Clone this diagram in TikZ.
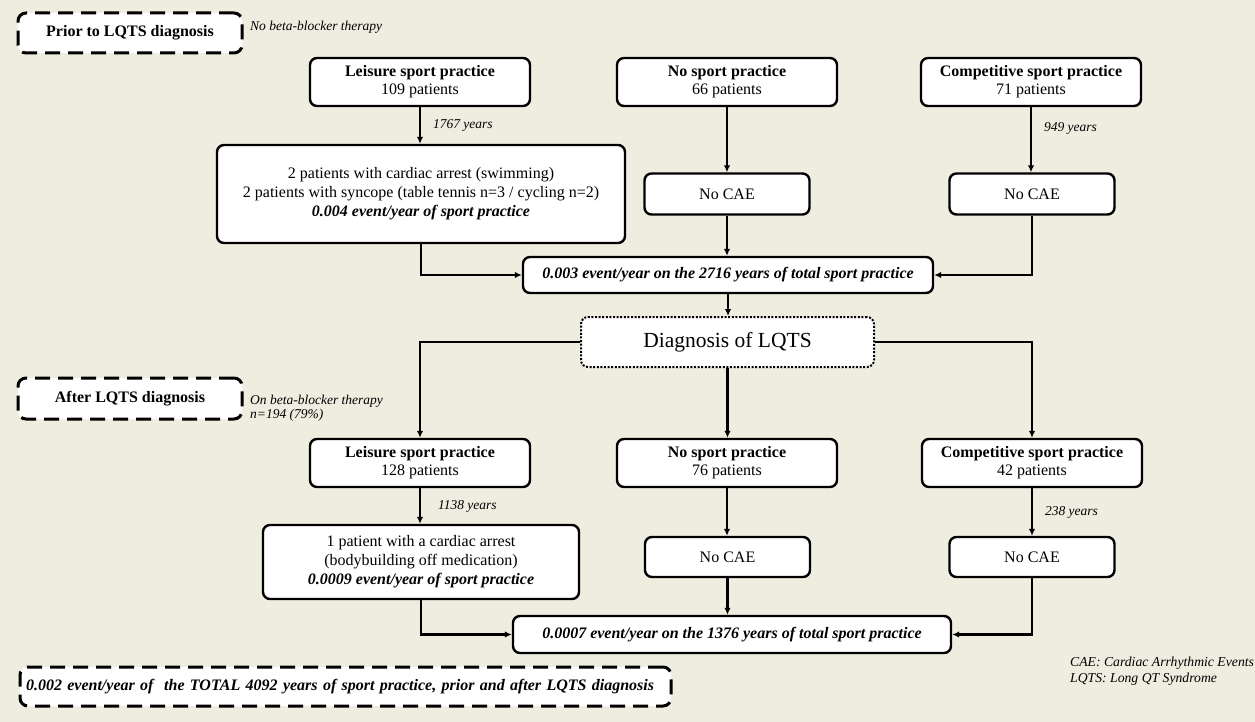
\documentclass[tikz,border=0pt]{standalone}
\usepackage{fontspec}
\setmainfont{Liberation Serif}
\usetikzlibrary{arrows.meta}
\definecolor{paper}{HTML}{EFEDE0}

\begin{document}
\begin{tikzpicture}[x=1pt,y=-1pt,
  box/.style={draw, line width=2.4pt, fill=white, rounded corners=7pt,
    inner sep=0pt, align=center, font=\fontsize{16}{18}\selectfont},
  grp/.style={box, minimum width=220pt, minimum height=48pt},
  res/.style={box, minimum width=165pt, minimum height=41pt},
  tot/.style={box, minimum height=36pt, font=\fontsize{16}{18}\selectfont\bfseries\itshape},
  phase/.style={box, line width=3pt, dash pattern=on 15pt off 8pt,
    rounded corners=8pt, minimum width=224pt, minimum height=40pt,
    font=\fontsize{16}{18}\selectfont\bfseries},
  note/.style={anchor=west, align=left, inner sep=0pt, font=\fontsize{13.5}{14}\selectfont\itshape},
  arr/.style={line width=2.2pt, -{Latex[length=7pt,width=6.5pt]}},
]
% page background
\path[use as bounding box, fill=paper] (0,0) rectangle (1255,722);

% ---------- before diagnosis ----------
\node[phase] (prior) at (130,33) {Prior to LQTS diagnosis};
\node[note] (prnote) at (250,27) {No beta-blocker therapy};

\node[grp] (ls1) at (420,82) {\textbf{Leisure sport practice}\\109 patients};
\node[grp] (ns1) at (727,82) {\textbf{No sport practice}\\66 patients};
\node[grp] (cs1) at (1031,82) {\textbf{Competitive sport practice}\\71 patients};

\node[box, minimum width=408pt, minimum height=98pt, font=\fontsize{16}{19}\selectfont]
  (ev1) at (421,194) {2 patients with cardiac arrest (swimming)\\
  2 patients with syncope (table tennis n=3 / cycling n=2)\\
  \textbf{\textit{0.004 event/year of sport practice}}};
\node[res] (nc1) at (727,194) {No CAE};
\node[res] (nc1r) at (1032,194) {No CAE};

\node[tot, minimum width=410pt] (tot1) at (728,275)
  {0.003 event/year on the 2716 years of total sport practice};

\draw[arr] (ls1.south) -- (ev1.north -| ls1.south)
  node[note, midway, xshift=12pt] (y1) {1767 years};
\draw[arr] (ns1.south) -- (nc1.north);
\draw[arr] (cs1.south) -- (nc1r.north -| cs1.south)
  node[note, pos=0.33, xshift=12pt] (y2) {949 years};
\draw[arr] (ev1.south) |- (tot1.west);
\draw[arr] (nc1.south) -- (tot1.north -| nc1.south);
\draw[arr] (nc1r.south) |- (tot1.east);

% ---------- diagnosis ----------
\node[box, line width=2pt, dash pattern=on 2pt off 1.6pt, minimum width=293pt,
  minimum height=50pt, font=\fontsize{21.5}{24}\selectfont]
  (diag) at (727.5,342) {Diagnosis of LQTS};
\draw[arr] (tot1.south) -- (diag.north -| tot1.south);

% ---------- after diagnosis ----------
\node[phase, minimum height=41pt] (after) at (130,398.5) {After LQTS diagnosis};
\node[note] (afnote) at (250,408.5) {On beta-blocker therapy\\n=194 (79\%)};

\node[grp] (ls2) at (420,463) {\textbf{Leisure sport practice}\\128 patients};
\node[grp] (ns2) at (727,463) {\textbf{No sport practice}\\76 patients};
\node[grp] (cs2) at (1032,463) {\textbf{Competitive sport practice}\\42 patients};

\draw[arr] (diag.west) -| (ls2.north);
\draw[arr] (diag.south) -- (ns2.north -| diag.south);
\draw[arr] (diag.east) -| (cs2.north);

\node[box, minimum width=316pt, minimum height=74pt, font=\fontsize{16}{19}\selectfont]
  (ev2) at (421,562) {1 patient with a cardiac arrest\\
  (bodybuilding off medication)\\
  \textbf{\textit{0.0009 event/year of sport practice}}};
\node[res, minimum height=40pt] (nc2) at (727.5,557) {No CAE};
\node[res, minimum height=40pt] (nc2r) at (1032,557) {No CAE};

\node[tot, minimum width=438pt, minimum height=37pt] (tot2) at (732,634.5)
  {0.0007 event/year on the 1376 years of total sport practice};

\draw[arr] (ls2.south) -- (ev2.north -| ls2.south)
  node[note, midway, xshift=17pt] (y3) {1138 years};
\draw[arr] (ns2.south) -- (nc2.north -| ns2.south);
\draw[arr] (cs2.south) -- (nc2r.north -| cs2.south)
  node[note, midway, xshift=12pt] (y4) {238 years};
\draw[arr] (ev2.south) |- (tot2.west);
\draw[arr] (nc2.south) -- (tot2.north -| nc2.south);
\draw[arr] (nc2r.south) |- (tot2.east);

% ---------- overall result and legend ----------
\node[phase, minimum height=39pt, text width=639pt, inner xsep=6pt, align=left,
  font=\fontsize{16}{18}\selectfont\bfseries\itshape] (all) at (345.5,686.5)
  {0.002 event/year of~ the TOTAL 4092 years of sport practice, prior and after LQTS diagnosis};

\node[note, font=\fontsize{13.7}{16}\selectfont\itshape] (legend) at (1070,671)
  {CAE: Cardiac Arrhythmic Events\\LQTS: Long QT Syndrome};
\end{tikzpicture}
\end{document}
